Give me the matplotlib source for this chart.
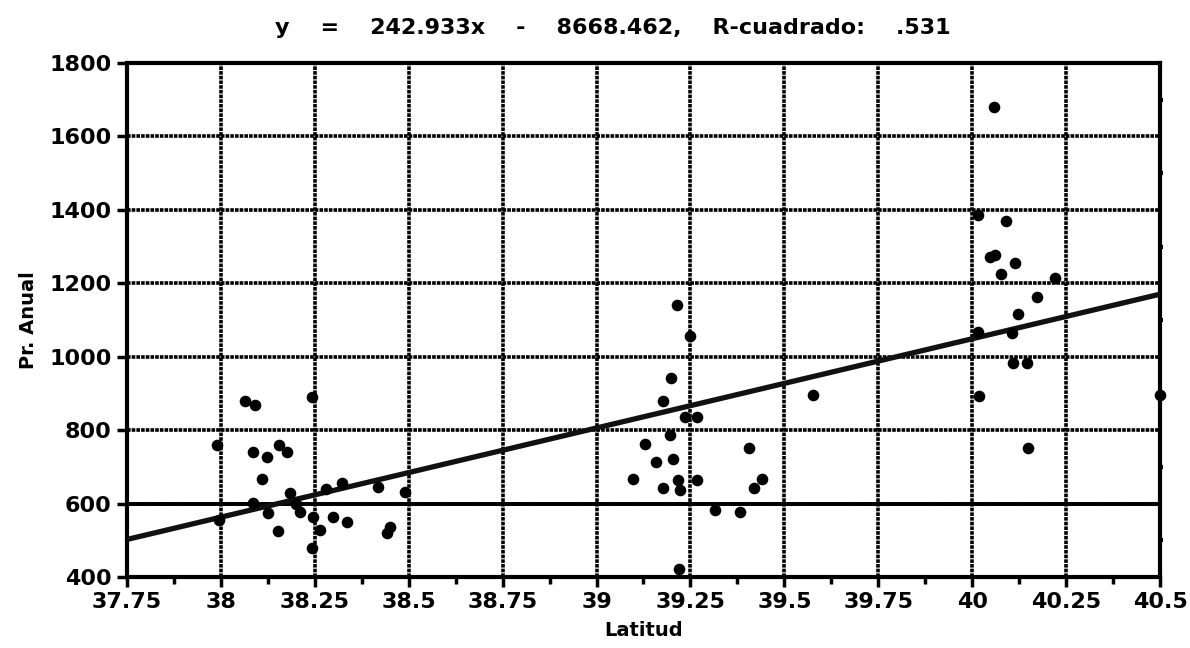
import matplotlib
matplotlib.use("Agg")
import matplotlib.pyplot as plt
import numpy as np

plt.rcParams['font.family'] = ['DejaVu Sans']

lat = [38.064, 38.091, 38.243, 37.99, 38.085, 38.123, 38.155, 38.176, 38.11, 38.184,
       38.085, 38.125, 38.21, 38.245, 38.322, 38.298, 38.336, 38.418, 38.45, 38.442,
       38.152, 38.243, 38.264, 38.49, 38.28, 38.20, 37.995,
       39.214, 39.25, 39.198, 39.177, 39.235, 39.267, 39.196, 39.129, 39.158, 39.204,
       39.097, 39.177, 39.217, 39.222, 39.267, 39.406, 39.44, 39.42, 39.315, 39.382,
       39.22, 39.576,
       40.058, 40.016, 40.09, 40.047, 40.06, 40.114, 40.077, 40.221, 40.173, 40.122,
       40.016, 40.106, 40.109, 40.146, 40.018, 40.149, 40.5]
prec = [880, 869, 890, 760, 741, 727, 760, 741, 667, 629,
        602, 574, 577, 563, 656, 563, 550, 645, 536, 520,
        525, 479, 528, 632, 640, 600, 555,
        1141, 1057, 942, 880, 836, 836, 787, 762, 713, 722,
        667, 642, 664, 637, 664, 751, 667, 642, 583, 577,
        422, 896,
        1681, 1386, 1370, 1272, 1277, 1256, 1226, 1215, 1163, 1117,
        1068, 1065, 983, 983, 893, 751, 896]

slope = 242.933
intercept = -8668.462
r2 = 0.531

x_ticks = [37.75, 38, 38.25, 38.5, 38.75, 39, 39.25, 39.5, 39.75, 40, 40.25, 40.5]
x_tick_labels = ['37.75', '38', '38.25', '38.5', '38.75', '39', '39.25', '39.5',
                 '39.75', '40', '40.25', '40.5']
y_ticks = [400, 600, 800, 1000, 1200, 1400, 1600, 1800]

fig = plt.figure(figsize=(11.9, 6.48), dpi=100)
ax = fig.add_axes([127/1190, 1-577/648, (1160-127)/1190, (577-63)/648])

ax.set_xlim(37.75, 40.5)
ax.set_ylim(400, 1800)
ax.set_xticks(x_ticks)
ax.set_xticklabels(x_tick_labels)
ax.set_yticks(y_ticks)
ax.set_xticks([t + 0.125 for t in x_ticks[:-1]], minor=True)
ax.set_yticks([t + 100 for t in y_ticks[:-1]], minor=True)

ax.grid(True, which='major', color='black', linewidth=2.6, linestyle=(0, (1.0, 0.3)))
ax.axhline(600, color='black', linewidth=2.8, zorder=1)
ax.set_axisbelow(True)

for s in ax.spines.values():
    s.set_linewidth(3)
    s.set_color('black')

ax.tick_params(axis='both', which='major', direction='out', length=7, width=2.5,
               labelsize=16, pad=4)
ax.tick_params(axis='x', which='minor', direction='out', length=5, width=2.5, top=False)
ax.tick_params(axis='y', which='minor', direction='out', length=2.5, width=3,
               left=False, right=True)
for lbl in ax.get_xticklabels() + ax.get_yticklabels():
    lbl.set_fontweight('heavy')

xl = np.array([37.75, 40.5])
ax.plot(xl, slope * xl + intercept, color='#111111', linewidth=3.8, zorder=3,
        solid_capstyle='butt')
ax.scatter(lat, prec, s=70, color='black', zorder=4, clip_on=False, linewidths=0)

ax.set_xlabel('Latitud', fontsize=14, fontweight='bold', labelpad=6)
ax.set_ylabel('Pr. Anual', fontsize=14, fontweight='bold', labelpad=8)

fig.text(613/1190, 1-28/648,
         'y    =    %.3fx    -    %.3f,    R-cuadrado:    %s'
         % (slope, -intercept, ('%.3f' % r2)[1:]),
         ha='center', va='center', fontsize=16, fontweight='heavy')

fig.savefig('out.png', dpi=100)
